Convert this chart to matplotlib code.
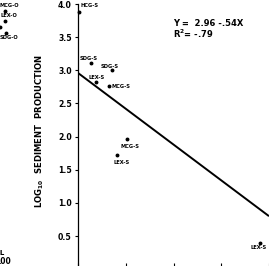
import numpy as np
import matplotlib
matplotlib.use("Agg")
import matplotlib.pyplot as plt

# ---- data ----
s_labels = ["HCG-S", "SDG-S", "SDG-S", "LEX-S", "MCG-S", "MCG-S", "LEX-S", "LEX-S"]
s_x = [0.02, 0.28, 0.72, 0.38, 0.64, 1.02, 0.82, 3.82]
s_y = [3.88, 3.11, 3.00, 2.82, 2.76, 1.96, 1.72, 0.40]

# remnants of the neighbouring (cropped) panel
o_labels = ["MCG-O", "LEX-O", "", "SDG-O"]
o_x = [3.70, 3.70, 3.60, 3.72]
o_y = [3.89, 3.75, 3.66, 3.57]

intercept = 2.96
slope = -0.54
r2_text = "-.79"
y_ticks = [0.5, 1.0, 1.5, 2.0, 2.5, 3.0, 3.5, 4.0]
x_ticks = [0, 1, 2, 3, 4]

# ---- layout / style ----
W, H = 269, 266
FONT = "DejaVu Sans"
plt.rcParams["font.family"] = FONT
plt.rcParams["font.weight"] = "bold"
plt.rcParams["mathtext.fontset"] = "dejavusans"

fig = plt.figure(figsize=(W / 100, H / 100), dpi=100)
ax = fig.add_axes([78 / W, -3.2 / H, (W - 78) / W, 265.2 / H])
ax.set_xlim(0, (W - 78) / 49.8)
ax.set_ylim(0, 4.0)

for sp in ("top", "right", "bottom"):
    ax.spines[sp].set_visible(False)
ax.spines["left"].set_linewidth(0.9)

ax.set_yticks(y_ticks)
ax.set_yticklabels([f"{v:.1f}" for v in y_ticks])
ax.tick_params(axis="y", direction="out", length=2.5, width=0.8, pad=2,
               labelsize=5.6)
ax.set_xticks(x_ticks)
ax.tick_params(axis="x", direction="in", length=4, width=0.8,
               labelbottom=False)
for t in ax.get_yticklabels():
    t.set_fontweight("bold")

# regression line
xl = np.linspace(0, ax.get_xlim()[1], 50)
ax.plot(xl, intercept + slope * xl, color="black", lw=1.4, solid_capstyle="butt")

# points
ax.plot(s_x, s_y, "o", color="black", ms=1.8, clip_on=False)

# label offsets in points (dx, dy, ha)
s_off = [(7.9, 5.0, "center"), (-1.8, 3.6, "center"), (-1.8, 2.9, "center"),
         (0.7, 3.6, "center"), (2.2, 0.0, "left"), (2.5, -5.0, "center"),
         (2.9, -5.0, "center"), (-7.2, -3.6, "left")]
for lab, x, y, (dx, dy, ha) in zip(s_labels, s_x, s_y, s_off):
    ax.annotate(lab, (x, y), xytext=(dx, dy), textcoords="offset points",
                ha=ha, va="center", fontsize=3.7, fontweight="bold",
                annotation_clip=False)

# neighbouring panel remnants
ax2 = fig.add_axes([-180 / W, -3.2 / H, 200 / W, 265.2 / H])
ax2.set_xlim(0, 4)
ax2.set_ylim(0, 4.0)
ax2.axis("off")
ax2.plot(o_x, o_y, "o", color="black", ms=1.8, clip_on=False)
o_off = [(2.8, 4.5), (3.0, 3.6), (0, 0), (2.2, -3.6)]
for lab, x, y, (dx, dy) in zip(o_labels, o_x, o_y, o_off):
    if lab:
        ax2.annotate(lab, (x, y), xytext=(dx, dy), textcoords="offset points",
                     ha="center", va="center", fontsize=3.7, fontweight="bold",
                     annotation_clip=False)
fig.text(5 / W, 1 - 253 / H, "TOTAL", ha="right", va="center", fontsize=5,
         fontweight="bold")
fig.text(11 / W, 1 - 262 / H, "100", ha="right", va="center", fontsize=5.5,
         fontweight="bold")

# equation
fig.text(173 / W, 1 - 23 / H, f"Y =  {intercept:.2f} -{str(abs(slope))[1:]}X",
         ha="left", va="center", fontsize=6, fontweight="bold")
fig.text(173 / W, 1 - 34 / H, r"R$^{\mathbf{2}}$= " + r2_text,
         ha="left", va="center", fontsize=6, fontweight="bold")

# y label
fig.text(40 / W, 1 - 131 / H,
         r"LOG$_{\mathbf{10}}$  SEDIMENT  PRODUCTION",
         rotation=90, ha="center", va="center", fontsize=6.1, fontweight="bold")

fig.savefig("out.png", dpi=100)
